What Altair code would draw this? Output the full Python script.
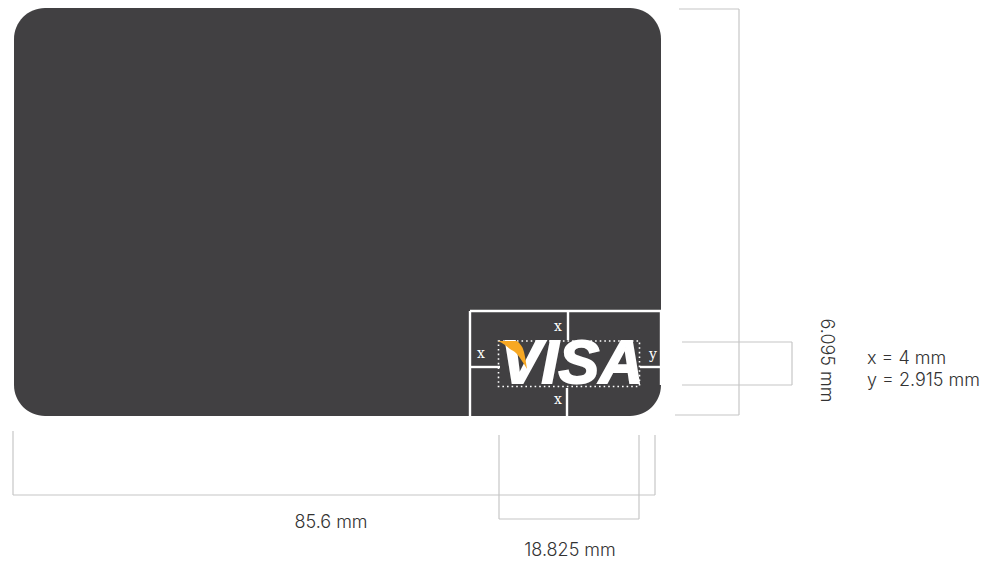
import altair as alt
import pandas as pd

W, H = 977, 553
X = alt.Scale(domain=[8, 985], nice=False, zero=False)
Y = alt.Scale(domain=[8, 561], nice=False, zero=False, reverse=True)

card_x, card_x2, card_y, card_y2 = [14], [661], [8], [416]

# dimension lines: x, x2, y, y2
gray_x  = [679, 739, 675, 682, 792, 682, 13, 13, 655, 499, 499, 639]
gray_x2 = [739, 739, 739, 792, 792, 792, 13, 655, 655, 499, 639, 639]
gray_y  = [9, 9, 415, 342, 342, 385, 431, 495, 435, 435, 519, 435]
gray_y2 = [9, 415, 415, 342, 385, 385, 495, 495, 495, 519, 519, 519]

# white clear-space lines
white_x  = [470, 470, 661, 568, 567, 470, 640]
white_x2 = [661, 470, 661, 568, 567, 500, 661]
white_y  = [311, 311, 311, 311, 388, 367, 367]
white_y2 = [311, 416, 385, 340, 416, 367, 367]

dot_x, dot_x2, dot_y, dot_y2 = [498.5], [639.5], [341], [386.5]

logo_text = ["VISA"]
logo_x, logo_y = [572], [365]

swoosh_x  = [498, 505, 510, 516, 520, 524, 527]
swoosh_y  = [341, 341, 341, 341, 344, 352, 369]
swoosh_y2 = [341, 345, 349, 353, 358, 364, 369]

small_text = ["x", "x", "x", "y"]
small_x = [558, 481, 558, 653]
small_y = [327, 354, 400, 355]

label_text = ["85.6 mm", "18.825 mm"]
label_x = [331, 570]
label_y = [523, 551]

note_text = ["x = 4 mm", "y = 2.915 mm"]
note_x = [867, 867]
note_y = [359, 381]

side_text = ["6.095 mm"]
side_x, side_y = [825.5], [360.5]

TEXT = "#333333"
FONT = "Inter"
FS = 18

def xy(xs, x2s, ys, y2s):
    return pd.DataFrame({"x": xs, "x2": x2s, "y": ys, "y2": y2s})

def enc(chart):
    return chart.encode(
        x=alt.X("x:Q", scale=X, axis=None),
        x2="x2:Q",
        y=alt.Y("y:Q", scale=Y, axis=None),
        y2="y2:Q",
    )

def txt(chart):
    return chart.encode(
        x=alt.X("x:Q", scale=X, axis=None),
        y=alt.Y("y:Q", scale=Y, axis=None),
        text="t:N",
    )

card = enc(alt.Chart(xy(card_x, card_x2, card_y, card_y2)).mark_rect(color="#414042", cornerRadius=31))
gray = enc(alt.Chart(xy(gray_x, gray_x2, gray_y, gray_y2)).mark_rule(color="#c6c6c6", strokeWidth=1.2))
white = enc(alt.Chart(xy(white_x, white_x2, white_y, white_y2)).mark_rule(color="#ffffff", strokeWidth=2.4))
dots = enc(alt.Chart(xy(dot_x, dot_x2, dot_y, dot_y2)).mark_rect(
    fill=None, fillOpacity=0, stroke="#ffffff", strokeWidth=1.6, strokeDash=[1.6, 3]))

logo = txt(alt.Chart(pd.DataFrame({"t": logo_text, "x": logo_x, "y": logo_y})).mark_text(
    font="Liberation Sans", fontSize=61, fontWeight="bold", fontStyle="italic", color="#ffffff",
    stroke="#ffffff", strokeWidth=2, align="center", baseline="middle"))

swoosh = alt.Chart(pd.DataFrame({"x": swoosh_x, "y": swoosh_y, "y2": swoosh_y2})).mark_area(
    color="#f7a823", interpolate="monotone").encode(
    x=alt.X("x:Q", scale=X, axis=None),
    y=alt.Y("y:Q", scale=Y, axis=None),
    y2="y2:Q",
)

small = txt(alt.Chart(pd.DataFrame({"t": small_text, "x": small_x, "y": small_y})).mark_text(
    font="DejaVu Serif", fontSize=14, color="#ffffff", align="center", baseline="middle"))

labels = txt(alt.Chart(pd.DataFrame({"t": label_text, "x": label_x, "y": label_y})).mark_text(
    font=FONT, fontSize=FS, fontWeight=300, color=TEXT, align="center", baseline="middle"))

notes = txt(alt.Chart(pd.DataFrame({"t": note_text, "x": note_x, "y": note_y})).mark_text(
    font=FONT, fontSize=FS, fontWeight=300, color=TEXT, align="left", baseline="middle"))

side = txt(alt.Chart(pd.DataFrame({"t": side_text, "x": side_x, "y": side_y})).mark_text(
    font=FONT, fontSize=FS, fontWeight=300, color=TEXT, angle=90, align="center", baseline="middle"))

chart = alt.layer(card, gray, white, dots, logo, swoosh, small, labels, notes, side).properties(
    width=W, height=H, padding=0, autosize=alt.AutoSizeParams(type="none"), background="#ffffff"
).configure_view(stroke=None)

chart.save("out.html", embed_options={"renderer": "svg", "actions": False})
